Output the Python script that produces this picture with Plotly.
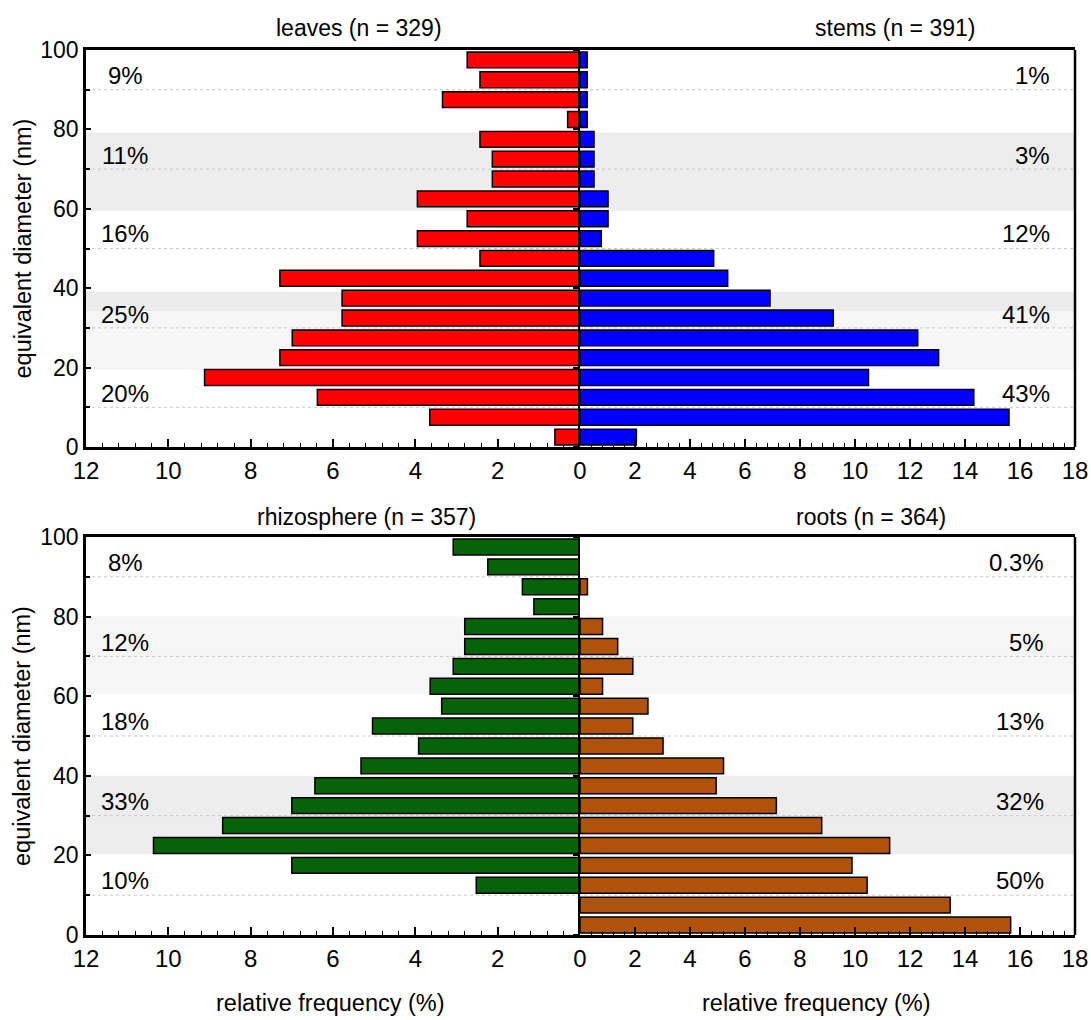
import plotly.graph_objects as go

# ---------------- data ----------------
bin_centers = [97.5, 92.5, 87.5, 82.5, 77.5, 72.5, 67.5, 62.5, 57.5, 52.5,
               47.5, 42.5, 37.5, 32.5, 27.5, 22.5, 17.5, 12.5, 7.5, 2.5]

leaves = [2.74, 2.43, 3.34, 0.30, 2.43, 2.13, 2.13, 3.95, 2.74, 3.95,
          2.43, 7.29, 5.78, 5.78, 6.99, 7.29, 9.12, 6.38, 3.65, 0.61]
stems = [0.26, 0.26, 0.26, 0.26, 0.51, 0.51, 0.51, 1.02, 1.02, 0.77,
         4.86, 5.37, 6.91, 9.21, 12.28, 13.04, 10.49, 14.32, 15.60, 2.05]
rhizosphere = [3.08, 2.24, 1.40, 1.12, 2.80, 2.80, 3.08, 3.64, 3.36, 5.04,
               3.92, 5.32, 6.44, 7.00, 8.68, 10.36, 7.00, 2.52, None, None]
roots = [None, None, 0.27, None, 0.82, 1.37, 1.92, 0.82, 2.47, 1.92,
         3.02, 5.22, 4.95, 7.14, 8.79, 11.26, 9.89, 10.44, 13.46, 15.66]

panel_titles = ["leaves (n = 329)", "stems (n = 391)",
                "rhizosphere (n = 357)", "roots (n = 364)"]
group_y = [93.7, 73.5, 53.7, 33.5, 13.6]
leaves_pct = ["9%", "11%", "16%", "25%", "20%"]
stems_pct = ["1%", "3%", "12%", "41%", "43%"]
rhizo_pct = ["8%", "12%", "18%", "33%", "10%"]
roots_pct = ["0.3%", "5%", "13%", "32%", "50%"]

left_ticks = [12, 10, 8, 6, 4, 2, 0]
right_ticks = [2, 4, 6, 8, 10, 12, 14, 16, 18]
y_ticks = [0, 20, 40, 60, 80, 100]

# ---------------- style ----------------
FONT = "Liberation Sans, Arial, sans-serif"
W, H = 1091, 1020
ML, MR, MT, MB = 86, 16, 50, 85
PW, PH = W - ML - MR, H - MT - MB


def pxx(px):
    return (px - ML) / PW


def pxy(py):
    return (H - MB - py) / PH


split = pxx(580)
top_dom = [pxy(447), 1.0]
bot_dom = [0.0, pxy(537)]

fig = go.Figure()

series = [
    (leaves, "#ff0000", "x", "y"),
    (stems, "#0000ff", "x2", "y2"),
    (rhizosphere, "#076307", "x3", "y3"),
    (roots, "#b0520a", "x4", "y4"),
]
for vals, col, xa, ya in series:
    fig.add_trace(go.Bar(
        x=vals, y=bin_centers, orientation="h", width=4.0,
        marker=dict(color=col, line=dict(color="black", width=1.5)),
        xaxis=xa, yaxis=ya, showlegend=False, hoverinfo="x+y"))

tickfont = dict(family=FONT, size=24, color="black")
ytickfont = dict(family=FONT, size=23, color="black")


def xaxis_left(anchor):
    return dict(domain=[0, split], anchor=anchor, range=[12, 0], automargin=False,
                tickvals=left_ticks, ticktext=[str(v) for v in left_ticks],
                ticks="inside", ticklen=8, tickwidth=1.5, tickcolor="black",
                minor=dict(dtick=0.4, tick0=0, ticks="inside", ticklen=4,
                           tickwidth=1.2, tickcolor="black"),
                showline=True, linecolor="black", linewidth=2.5, mirror=True,
                showgrid=False, zeroline=False, tickfont=tickfont)


def xaxis_right(anchor):
    return dict(domain=[split, 1], anchor=anchor, range=[0, 18], automargin=False,
                tickvals=right_ticks, ticktext=[str(v) for v in right_ticks],
                ticks="inside", ticklen=8, tickwidth=1.5, tickcolor="black",
                minor=dict(dtick=0.4, tick0=0, ticks="inside", ticklen=4,
                           tickwidth=1.2, tickcolor="black"),
                showline=True, linecolor="black", linewidth=2.5, mirror=True,
                showgrid=False, zeroline=False, tickfont=tickfont)


def yaxis_left(anchor, dom):
    return dict(domain=dom, anchor=anchor, range=[0, 100], automargin=False,
                tickvals=y_ticks, ticks="inside", ticklen=5, tickwidth=1.5,
                tickcolor="black",
                minor=dict(dtick=10, tick0=0, ticks="inside", ticklen=4,
                           tickwidth=1.5, tickcolor="black"),
                showline=True, linecolor="black", linewidth=2.5, mirror=False,
                showgrid=False, zeroline=False, tickfont=ytickfont)


def yaxis_right(anchor, dom):
    return dict(domain=dom, anchor=anchor, range=[0, 100], automargin=False,
                tickvals=y_ticks, showticklabels=False, ticks="outside",
                ticklen=5, tickwidth=2, tickcolor="black",
                showline=True, linecolor="black", linewidth=1.5, mirror=False,
                showgrid=False, zeroline=False)


fig.update_layout(
    width=W, height=H, autosize=False,
    margin=dict(l=ML, r=MR, t=MT, b=MB, pad=0, autoexpand=False),
    paper_bgcolor="white", plot_bgcolor="rgba(0,0,0,0)",
    barmode="overlay",
    xaxis=xaxis_left("y"), xaxis2=xaxis_right("y2"),
    xaxis3=xaxis_left("y3"), xaxis4=xaxis_right("y4"),
    yaxis=yaxis_left("x", top_dom), yaxis2=yaxis_right("x2", top_dom),
    yaxis3=yaxis_left("x3", bot_dom), yaxis4=yaxis_right("x4", bot_dom),
    font=dict(family=FONT, color="black"),
)

# background bands, dotted gridlines, right frame edges
bands = [
    ("y", 59.5, 79.2, "#ededed"), ("y", 34.1, 39.1, "#ececec"), ("y", 19.4, 34.1, "#f6f6f6"),
    ("y3", 60.5, 80.0, "#f6f6f6"), ("y3", 20.3, 40.0, "#ededed"),
]
shapes = []
for yref, y0, y1, col in bands:
    shapes.append(dict(type="rect", xref="paper", yref=yref, x0=0, x1=1,
                       y0=y0, y1=y1, fillcolor=col, line=dict(width=0),
                       layer="below"))
for yref in ["y", "y3"]:
    for gy in [10, 30, 50, 70, 90]:
        shapes.append(dict(type="line", xref="paper", yref=yref, x0=0, x1=1,
                           y0=gy, y1=gy, line=dict(color="#c8c8c8", width=1, dash="dot"),
                           layer="below"))
for yref in ["y2", "y4"]:
    shapes.append(dict(type="line", xref="paper", yref=yref, x0=1, x1=1,
                       y0=0, y1=100, line=dict(color="black", width=2.5)))
fig.update_layout(shapes=shapes)

ann = []
title_pos = [(359, 28), (895, 28), (366, 517), (871, 517)]
for txt, (px, py) in zip(panel_titles, title_pos):
    ann.append(dict(text=txt, xref="paper", yref="paper", x=pxx(px), y=pxy(py),
                    xanchor="center", yanchor="middle", showarrow=False,
                    font=dict(family=FONT, size=23, color="black")))

for px in [330, 816]:
    ann.append(dict(text="relative frequency (%)", xref="paper", yref="paper",
                    x=pxx(px), y=pxy(1003), xanchor="center", yanchor="middle",
                    showarrow=False, font=dict(family=FONT, size=23.5, color="black")))

for py in [248.5, 736]:
    ann.append(dict(text="equivalent diameter (nm)", xref="paper", yref="paper",
                    x=pxx(22), y=pxy(py), xanchor="center", yanchor="middle",
                    textangle=-90, showarrow=False,
                    font=dict(family=FONT, size=23.5, color="black")))

pct_font = dict(family=FONT, size=24, color="black")
for labels, xr, yr in [(leaves_pct, "x", "y"), (rhizo_pct, "x3", "y3")]:
    for t, gy in zip(labels, group_y):
        ann.append(dict(text=t, xref=xr, yref=yr, x=11.05, y=gy,
                        xanchor="center", yanchor="middle", showarrow=False,
                        font=pct_font))
for labels, xr, yr, xv in [(stems_pct, "x2", "y2", 17.15), (roots_pct, "x4", "y4", 16.95)]:
    for t, gy in zip(labels, group_y):
        ann.append(dict(text=t, xref=xr, yref=yr, x=xv, y=gy,
                        xanchor="right", yanchor="middle", showarrow=False,
                        font=pct_font))
fig.update_layout(annotations=ann)

fig.write_html("out.html",
               config={"responsive": False, "displayModeBar": False},
               post_script="document.body.style.margin='0px';document.body.style.overflow='hidden';")
